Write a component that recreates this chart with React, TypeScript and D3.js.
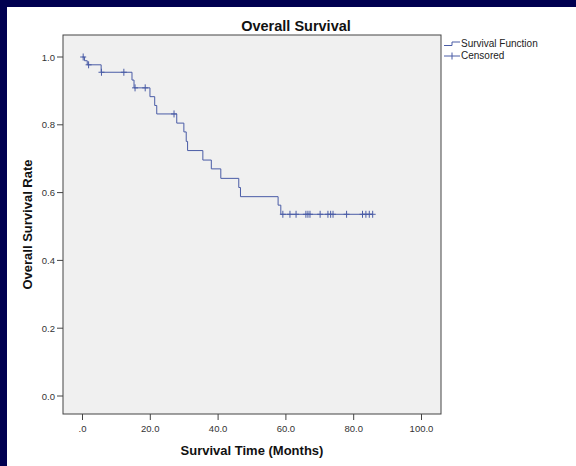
import React from "react";
import * as d3 from "d3";

// Kaplan-Meier step events: time (months) and survival after the event
const eventTimes = [0.6, 1.4, 5.5, 14.6, 15.2, 19.9, 21.3, 21.9, 27.8, 29.9, 30.6, 31.0, 35.5, 38.0, 40.8, 46.1, 46.6, 57.7, 58.5];
const eventSurvival = [0.989, 0.977, 0.955, 0.932, 0.909, 0.883, 0.857, 0.832, 0.805, 0.779, 0.751, 0.724, 0.696, 0.670, 0.642, 0.615, 0.588, 0.563, 0.536];
// Censored observation times (months)
const censorTimes = [0.2, 1.8, 5.6, 12.2, 15.5, 18.5, 27.0, 59.1, 61.2, 63.0, 65.9, 66.5, 67.1, 70.1, 72.4, 73.2, 73.9, 77.9, 82.6, 83.6, 84.6, 85.6];
const endTime = 85.6;

const xTicks = [0, 20, 40, 60, 80, 100];
const xTickLabels = [".0", "20.0", "40.0", "60.0", "80.0", "100.0"];
const yTicks = [0, 0.2, 0.4, 0.6, 0.8, 1.0];
const yTickLabels = ["0.0", "0.2", "0.4", "0.6", "0.8", "1.0"];

const W = 576;
const H = 466;
const frame = { left: 63, top: 35, right: 441, bottom: 414 };
const lineColor = "#4a5ca6";
const font = "'Liberation Sans', Arial, sans-serif";

function survivalAt(t: number): number {
  let s = 1;
  for (let i = 0; i < eventTimes.length; i++) {
    if (eventTimes[i] <= t) s = eventSurvival[i];
  }
  return s;
}

export default function App() {
  const x = d3.scaleLinear().domain([0, 100]).range([82.5, 421.5]);
  const y = d3.scaleLinear().domain([0, 1]).range([396, 57]);

  const pts: [number, number][] = [[0, 1]];
  eventTimes.forEach((t, i) => pts.push([t, eventSurvival[i]]));
  pts.push([endTime, eventSurvival[eventSurvival.length - 1]]);
  const line = d3
    .line<[number, number]>()
    .x((d) => x(d[0]))
    .y((d) => y(d[1]))
    .curve(d3.curveStepAfter);

  const cx = (frame.left + frame.right) / 2;
  const cy = (frame.top + frame.bottom) / 2;

  return (
    <svg
      width={W}
      height={H}
      style={{ position: "absolute", left: 0, top: 0, display: "block" }}
      fontFamily={font}
    >
      <rect x={0} y={0} width={W} height={H} fill="#000050" />
      <rect x={7} y={7} width={W - 7} height={H - 7} fill="#ffffff" />
      <rect
        x={frame.left}
        y={frame.top}
        width={frame.right - frame.left}
        height={frame.bottom - frame.top}
        fill="#f0f0f0"
        stroke="#444"
        strokeWidth={1}
      />
      <text x={296} y={31} textAnchor="middle" fontSize={14.5} fontWeight="bold" fill="#111">
        Overall Survival
      </text>
      {/* y axis */}
      {yTicks.map((v, i) => (
        <g key={"y" + i}>
          <line x1={57} x2={frame.left} y1={y(v)} y2={y(v)} stroke="#444" />
          <text x={55} y={y(v) + 3.5} textAnchor="end" fontSize={9.5} fill="#333">
            {yTickLabels[i]}
          </text>
        </g>
      ))}
      {/* x axis */}
      {xTicks.map((v, i) => (
        <g key={"x" + i}>
          <line x1={x(v)} x2={x(v)} y1={frame.bottom} y2={frame.bottom + 6} stroke="#444" />
          <text x={x(v)} y={432} textAnchor="middle" fontSize={9.5} fill="#333">
            {xTickLabels[i]}
          </text>
        </g>
      ))}
      <text
        transform={`translate(32,${cy}) rotate(-90)`}
        textAnchor="middle"
        fontSize={13}
        fontWeight="bold"
        fill="#111"
      >
        Overall Survival Rate
      </text>
      <text x={cx} y={455} textAnchor="middle" fontSize={13} fontWeight="bold" fill="#111">
        Survival Time (Months)
      </text>
      {/* curve */}
      <path d={line(pts) || ""} fill="none" stroke={lineColor} strokeWidth={1} />
      {censorTimes.map((t, i) => {
        const px = x(t);
        const py = y(survivalAt(t));
        return (
          <g key={"c" + i} stroke={lineColor} strokeWidth={1}>
            <line x1={px} x2={px} y1={py - 3.5} y2={py + 3.5} />
            <line x1={px - 3} x2={px + 3} y1={py} y2={py} />
          </g>
        );
      })}
      {/* legend */}
      <path d="M444,45.5 H452 V42 H460" fill="none" stroke={lineColor} strokeWidth={1} />
      <text x={461} y={47} fontSize={10} fill="#222">
        Survival Function
      </text>
      <line x1={444} x2={460} y1={56} y2={56} stroke={lineColor} />
      <line x1={452} x2={452} y1={52.5} y2={59.5} stroke={lineColor} />
      <text x={461} y={59} fontSize={10} fill="#222">
        Censored
      </text>
    </svg>
  );
}
